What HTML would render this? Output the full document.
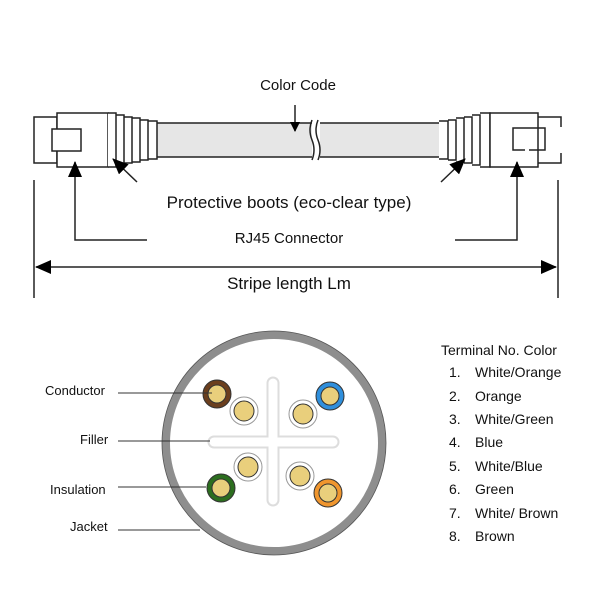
<!DOCTYPE html>
<html><head><meta charset="utf-8"><style>
html,body{margin:0;padding:0;background:#fff;}
svg{display:block;font-family:"Liberation Sans",Arial,sans-serif;}
</style></head><body>
<svg width="600" height="600" viewBox="0 0 600 600" xmlns="http://www.w3.org/2000/svg">
<defs>
<marker id="ah" markerWidth="10" markerHeight="10" refX="9" refY="5" orient="auto" markerUnits="userSpaceOnUse">
<path d="M0,0 L10,5 L0,10 z" fill="#000"/></marker>
<marker id="ah2" markerWidth="16" markerHeight="14" refX="15" refY="7" orient="auto" markerUnits="userSpaceOnUse">
<path d="M0,0 L16,7 L0,14 z" fill="#000"/></marker>
</defs>
<g stroke="#222" stroke-width="1.5" fill="none">
<!-- cable -->
<rect x="156" y="123" width="283" height="34" fill="#e6e6e6" stroke="none"/>
<line x1="156" y1="123" x2="312" y2="123"/><line x1="156" y1="157" x2="312" y2="157"/>
<line x1="320" y1="123" x2="439" y2="123"/><line x1="320" y1="157" x2="439" y2="157"/>
<rect x="312" y="118" width="8" height="44" fill="#fff" stroke="none"/>
<path d="M312,120 q-4,10 0,20 q4,10 0,20"/><path d="M318,120 q-4,10 0,20 q4,10 0,20"/>
<!-- left connector -->
<rect x="34" y="117" width="23" height="46" fill="#fff"/>
<rect x="57" y="113" width="51" height="54" fill="#fff"/>
<rect x="52" y="129" width="29" height="22" fill="#fff"/>
<path d="M108,113 h8 v54 h-8 M116,115 h8 v50 h-8 M124,117 h8 v46 h-8 M132,118 h8 v44 h-8 M140,120 h8 v40 h-8 M148,121 h9 v38 h-9" fill="#fff"/>
<!-- right connector -->
<path d="M439,121 h9 v38 h-9 M448,120 h8 v40 h-8 M456,118 h8 v44 h-8 M464,117 h8 v46 h-8 M472,115 h8 v50 h-8 M480,113 h10 v54 h-10" fill="#fff"/>
<rect x="490" y="113" width="48" height="54" fill="#fff"/>
<path d="M538,117 h23 v10 M561,153 v10 h-23"/>
<path d="M525,150 h-12 v-22 h32 v22 h-16"/>
<!-- arrows -->
<line x1="295" y1="105" x2="295" y2="131" marker-end="url(#ah)"/>
<line x1="137" y1="182" x2="113" y2="159" marker-end="url(#ah2)"/>
<line x1="441" y1="182" x2="465" y2="159" marker-end="url(#ah2)"/>
<path d="M147,240 H75 V162" marker-end="url(#ah2)"/>
<path d="M455,240 H517 V162" marker-end="url(#ah2)"/>
<line x1="34" y1="180" x2="34" y2="298"/>
<line x1="558" y1="180" x2="558" y2="298"/>
<line x1="290" y1="267" x2="36" y2="267" marker-end="url(#ah2)"/>
<line x1="290" y1="267" x2="556" y2="267" marker-end="url(#ah2)"/>
</g>
<g fill="#111">
<text x="298" y="90" font-size="15" text-anchor="middle">Color Code</text>
<text x="289" y="208" font-size="17" text-anchor="middle">Protective boots (eco-clear type)</text>
<text x="289" y="243" font-size="15" text-anchor="middle">RJ45 Connector</text>
<text x="289" y="289" font-size="17" text-anchor="middle">Stripe length Lm</text>
</g>
<!-- cross-section -->
<circle cx="274" cy="443" r="108" fill="#fff" stroke="#8e8e8e" stroke-width="8"/>
<circle cx="274" cy="443" r="112" fill="none" stroke="#555" stroke-width="0.8"/>
<g stroke="#ddd" stroke-width="13" stroke-linecap="round"><line x1="273" y1="383" x2="273" y2="500"/><line x1="214" y1="442" x2="333" y2="442"/></g>
<g stroke="#fff" stroke-width="9" stroke-linecap="round"><line x1="273" y1="383" x2="273" y2="500"/><line x1="214" y1="442" x2="333" y2="442"/></g>
<g stroke="#333" stroke-width="1">
<circle cx="217" cy="394" r="14" fill="#6b3f1e"/><circle cx="217" cy="394" r="9" fill="#e9cf7c"/>
<circle cx="330" cy="396" r="14" fill="#2f8fdc"/><circle cx="330" cy="396" r="9" fill="#e9cf7c"/>
<circle cx="221" cy="488" r="14" fill="#2c6e1f"/><circle cx="221" cy="488" r="9" fill="#e9cf7c"/>
<circle cx="328" cy="493" r="14" fill="#f0962e"/><circle cx="328" cy="493" r="9" fill="#e9cf7c"/>
<g stroke="#999"><circle cx="244" cy="411" r="14" fill="#fff"/><circle cx="303" cy="414" r="14" fill="#fff"/><circle cx="248" cy="467" r="14" fill="#fff"/><circle cx="300" cy="476" r="14" fill="#fff"/></g>
<circle cx="244" cy="411" r="10" fill="#e9cf7c"/><circle cx="303" cy="414" r="10" fill="#e9cf7c"/><circle cx="248" cy="467" r="10" fill="#e9cf7c"/><circle cx="300" cy="476" r="10" fill="#e9cf7c"/>
</g>
<g stroke="#333" stroke-width="1">
<line x1="118" y1="393" x2="212" y2="393"/>
<line x1="118" y1="441" x2="210" y2="441"/>
<line x1="118" y1="487" x2="206" y2="487"/>
<line x1="118" y1="530" x2="200" y2="530"/>
</g>
<g fill="#111" font-size="13">
<text x="45" y="395">Conductor</text>
<text x="80" y="444">Filler</text>
<text x="50" y="494">Insulation</text>
<text x="70" y="531">Jacket</text>
</g>
<g fill="#111" font-size="14">
<text x="441" y="355">Terminal No. Color</text>
<text x="449" y="377">1.</text><text x="475" y="377">White/Orange</text>
<text x="449" y="401">2.</text><text x="475" y="401">Orange</text>
<text x="449" y="424">3.</text><text x="475" y="424">White/Green</text>
<text x="449" y="447">4.</text><text x="475" y="447">Blue</text>
<text x="449" y="471">5.</text><text x="475" y="471">White/Blue</text>
<text x="449" y="494">6.</text><text x="475" y="494">Green</text>
<text x="449" y="518">7.</text><text x="475" y="518">White/ Brown</text>
<text x="449" y="541">8.</text><text x="475" y="541">Brown</text>
</g>
</svg>
</body></html>
